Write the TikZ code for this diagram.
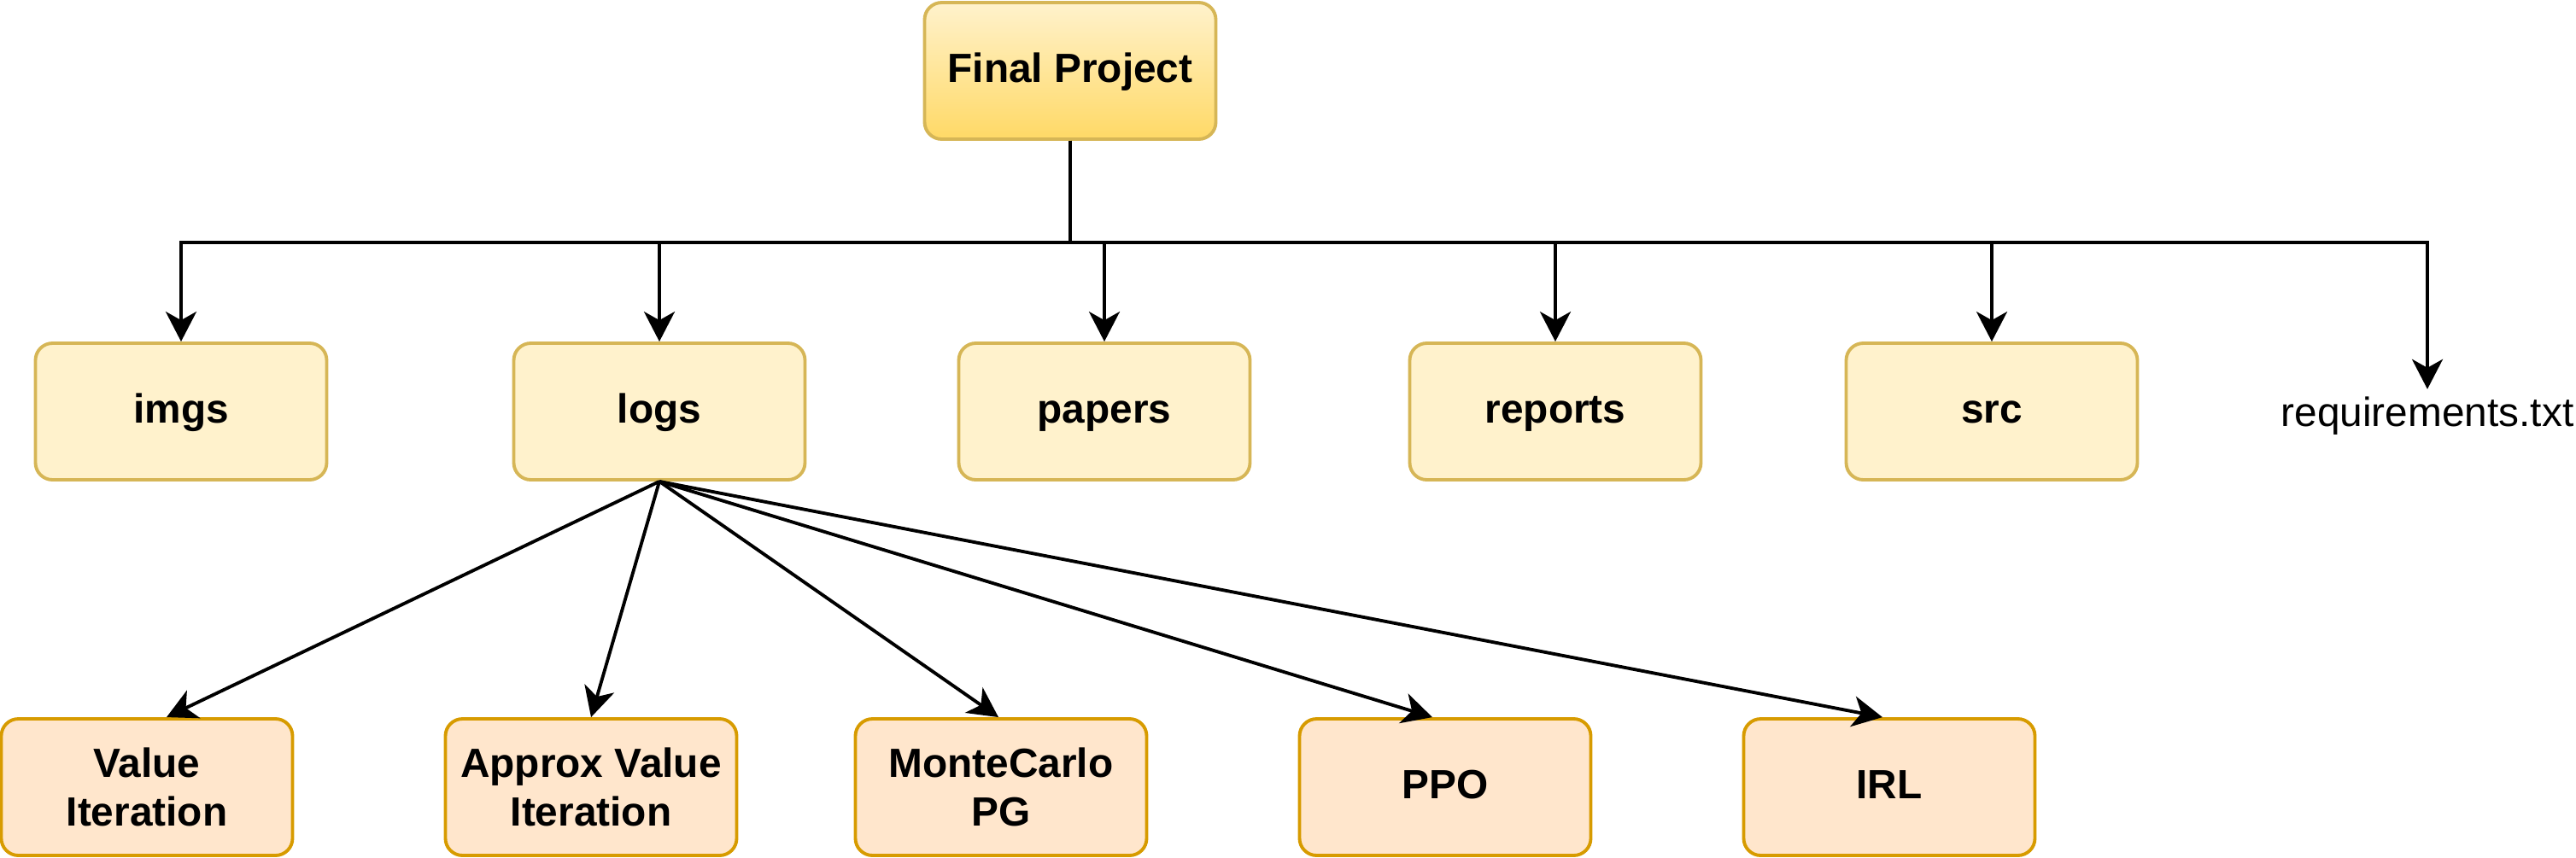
\documentclass[tikz,border=0pt]{standalone}
\usepackage{fontspec}
\setmainfont{Liberation Sans}
\usetikzlibrary{arrows.meta}

\definecolor{roottop}{HTML}{FFF2CC}
\definecolor{rootbot}{HTML}{FFD966}
\definecolor{folderfill}{HTML}{FFF2CC}
\definecolor{folderline}{HTML}{D6B656}
\definecolor{algofill}{HTML}{FFE6CC}
\definecolor{algoline}{HTML}{D79B00}

\tikzset{
    oneline/.style={text height=0.99em, text depth=0.25em},
    folder/.style={draw=folderline, fill=folderfill, line width=1.1pt,
        rounded corners=0.2cm, minimum width=3.41cm, minimum height=1.6cm,
        align=center, font=\fontsize{13.6}{16}\selectfont\bfseries},
    rootbox/.style={folder, oneline, fill=none, top color=roottop, bottom color=rootbot},
    algo/.style={folder, draw=algoline, fill=algofill},
    link/.style={line width=1.1pt,
        -{Stealth[length=0.35cm, width=0.36cm, inset=0.1cm]}},
}

\begin{document}
\begin{tikzpicture}
        \useasboundingbox (0, 0) rectangle (30.16, -10.04);

        % Draw the project folder
        \node[rootbox] (root) at (12.53, -0.83) {Final Project};

        % Draw the top level folders
        \node[folder, oneline] (imgs) at (2.12, -4.82) {imgs};
        \node[folder, oneline] (logs) at (7.72, -4.82) {logs};
        \node[folder, oneline] (papers) at (12.93, -4.82) {papers};
        \node[folder, oneline] (reports) at (18.21, -4.82) {reports};
        \node[folder, oneline] (src) at (23.32, -4.82) {src};
        \node[oneline, font=\fontsize{13.6}{16}\selectfont] (req) at (28.42, -4.86) {requirements.txt};

        \draw[link] (root.south) -- ++(0, -1.19) -| (imgs.north);
        \draw[link] (root.south) -- ++(0, -1.19) -| (logs.north);
        \draw[link] (root.south) -- ++(0, -1.19) -| (papers.north);
        \draw[link] (root.south) -- ++(0, -1.19) -| (reports.north);
        \draw[link] (root.south) -- ++(0, -1.19) -| (src.north);
        \draw[link] (root.south) -- ++(0, -1.19) -| ([yshift=-0.04cm]req.north);

        % Draw the runs inside logs
        \node[algo] (vi) at (1.72, -9.22) {Value\\Iteration};
        \node[algo] (avi) at (6.92, -9.22) {Approx Value\\Iteration};
        \node[algo] (mcpg) at (11.72, -9.22) {MonteCarlo\\PG};
        \node[algo, oneline] (ppo) at (16.92, -9.22) {PPO};
        \node[algo, oneline] (irl) at (22.12, -9.22) {IRL};

        \draw[link] (logs.south) -- ([xshift=0.23cm]vi.north);
        \draw[link] (logs.south) -- (avi.north);
        \draw[link] (logs.south) -- ([xshift=-0.03cm]mcpg.north);
        \draw[link] (logs.south) -- ([xshift=-0.15cm]ppo.north);
        \draw[link] (logs.south) -- ([xshift=-0.08cm]irl.north);
    \end{tikzpicture}
\end{document}
